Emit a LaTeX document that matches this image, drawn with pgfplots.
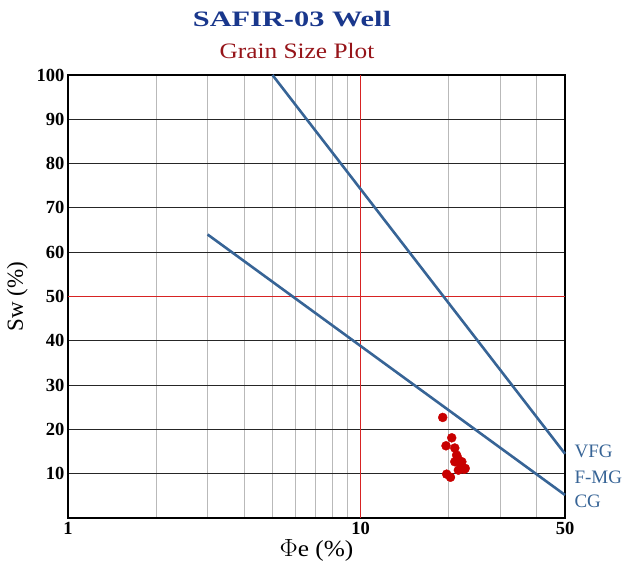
\documentclass[border=0pt]{standalone}
\usepackage{fontspec}
\setmainfont{Liberation Serif}
\usepackage{graphicx}
\usepackage{pgfplots}
\pgfplotsset{compat=1.18}

\definecolor{lineblue}{RGB}{55,100,150}
\definecolor{titleblue}{RGB}{25,55,140}
\definecolor{subred}{RGB}{150,20,25}
\definecolor{dotred}{RGB}{200,0,0}
\definecolor{gridred}{RGB}{215,35,35}
\definecolor{minorgray}{RGB}{185,185,185}

\begin{document}
\begin{tikzpicture}[x=1pt,y=1pt]
\useasboundingbox (0,0) rectangle (625,566);

% titles
\node at (292,547) {\scalebox{1.38}[1]{\fontsize{22}{22}\selectfont\bfseries\color{titleblue}SAFIR-03 Well}};
\node at (297,515) {\scalebox{1.15}[1]{\fontsize{22}{22}\selectfont\color{subred}Grain Size Plot}};

\begin{axis}[
  at={(68pt,48pt)}, anchor=south west,
  scale only axis, width=497pt, height=443pt,
  xmode=log, log basis x=10,
  xmin=1, xmax=50, ymin=0, ymax=100,
  clip=false,
  xtick={1,10,50},
  xticklabels={\textbf{1},\textbf{10},\textbf{50}},
  minor xtick={2,3,4,5,6,7,8,9,20,30,40},
  ytick={10,20,30,40,50,60,70,80,90,100},
  yticklabels={\textbf{10},\textbf{20},\textbf{30},\textbf{40},\textbf{50},\textbf{60},\textbf{70},\textbf{80},\textbf{90},\textbf{100}},
  major tick length=0pt, minor tick length=0pt,
  ymajorgrids, xminorgrids,
  major grid style={black!85, line width=1.1pt},
  minor grid style={minorgray, line width=0.9pt},
  axis line style={black, line width=2.2pt},
  tick label style={font=\fontsize{18.5}{18.5}\selectfont\bfseries},
  xticklabel style={yshift=-1pt},
  xlabel={\scalebox{1.1}[1]{$\Phi$e (\%)}},
  ylabel={Sw (\%)},
  xlabel style={font=\fontsize{23}{23}\selectfont, yshift=2pt},
  ylabel style={font=\fontsize{23}{23}\selectfont, yshift=2pt},
]
% red reference lines at 10 % porosity and 50 % saturation
\draw[gridred, line width=1.1pt] (axis cs:10,0) -- (axis cs:10,100);
\draw[gridred, line width=1.1pt] (axis cs:1,50) -- (axis cs:50,50);

% grain size boundaries
\addplot[lineblue, line width=2.6pt] coordinates {(5,100) (50,14.5)};
\addplot[lineblue, line width=2.6pt] coordinates {(3,64) (50,5.2)};

% samples
\addplot[only marks, mark=*, mark size=4.5pt, dotred, mark options={draw=dotred, fill=dotred}] table {
x y
19.1 22.7
20.5 18.1
19.6 16.3
21.0 15.8
21.3 14.2
21.0 12.7
22.2 12.7
22.8 11.2
21.6 10.8
19.7 9.9
20.3 9.2
22.6 11.0
21.5 13.5
22.0 12.0
};

\node[anchor=west, text=lineblue, font=\fontsize{19}{19}\selectfont] at (axis cs:50,15) [xshift=6pt] {VFG};
\node[anchor=west, text=lineblue, font=\fontsize{19}{19}\selectfont] at (axis cs:50,9.2) [xshift=6pt] {F-MG};
\node[anchor=west, text=lineblue, font=\fontsize{19}{19}\selectfont] at (axis cs:50,3.8) [xshift=6pt] {CG};
\end{axis}
\end{tikzpicture}
\end{document}
